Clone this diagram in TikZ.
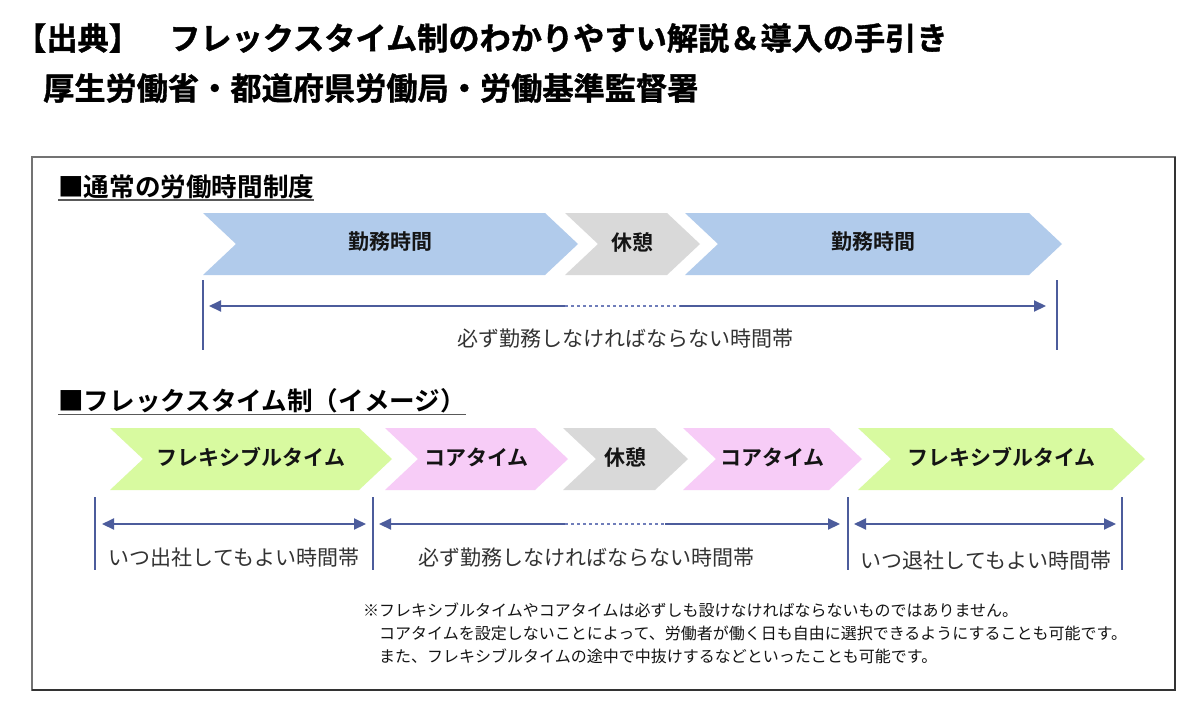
\documentclass[tikz,border=0pt]{standalone}
\usepackage{fontspec}
\setmainfont{Noto Sans CJK JP}[BoldFont={Noto Sans CJK JP Bold}]
\newfontfamily\heavyjp{Noto Sans CJK JP Bold}[FakeBold=1.2]
\usetikzlibrary{arrows.meta}
\definecolor{blueC}{HTML}{B1CBEB}
\definecolor{grayC}{HTML}{D9D9D9}
\definecolor{greenC}{HTML}{D8FAA0}
\definecolor{pinkC}{HTML}{F7CCF7}
\definecolor{arr}{HTML}{4C5C9C}
\definecolor{arrlight}{HTML}{6F7DBA}
\definecolor{txt}{HTML}{333333}
\newcommand{\chev}[6]{% left, tip, centre y, colour, name, text
  \fill[#4] (#1,#3-31) -- (#2-33,#3-31) -- (#2,#3) -- (#2-33,#3+31) -- (#1,#3+31) -- (#1+33,#3) -- cycle;
  \node[chevtext] (#5) at ({(#1+#2)/2},#3-2) {#6};}
\tikzset{
  chevtext/.style={inner sep=0pt, font=\fontsize{21}{21}\selectfont\bfseries, text=black!92},
  lbl/.style={inner sep=0pt, font=\fontsize{21}{21}\selectfont, text=txt},
  heading/.style={inner sep=0pt, anchor=west, font=\fontsize{25.6}{25.6}\selectfont\bfseries, text=black},
  uline/.style={line width=1.8pt, black!65},
  title/.style={inner sep=0pt, anchor=west, font=\fontsize{31.2}{31.2}\selectfont\heavyjp, text=black},
  vline/.style={line width=2pt, arr},
  arrline/.style={line width=2pt, arr},
  dotline/.style={line width=2.4pt, arrlight, dash pattern=on 3pt off 3pt},
  tipL/.style={{Triangle[length=12pt,width=11pt]}-},
  tipR/.style={-{Triangle[length=12pt,width=11pt]}},
  tipLR/.style={{Triangle[length=12pt,width=11pt]}-{Triangle[length=12pt,width=11pt]}},
}
\begin{document}
\begin{tikzpicture}[x=1pt,y=-1pt]
\fill[white] (0,0) rectangle (1196,710);
\useasboundingbox (0,0) rectangle (1196,710);

% titles
\node[title] (src) at (15,38) {【出典】};
\node[title] (ttl) at (169,38) {フレックスタイム制のわかりやすい解説＆導入の手引き};
\node[title] (org) at (43,88) {厚生労働省・都道府県労働局・労働基準監督署};

% frame
\draw[line width=2pt, black!55] (32,157) rectangle (1175,690);
\draw[line width=2pt, black!80] (1175,157) -- (1175,690) -- (32,690);

% section 1
\node[heading] (h1) at (58,187) {■通常の労働時間制度};
\draw[uline] ([yshift=-1pt]h1.south west) -- ([yshift=-1pt]h1.south east);

\chev{203}{578}{244}{blueC}{w1}{勤務時間}
\chev{565}{700}{244}{grayC}{r1}{休憩}
\chev{685}{1062}{244}{blueC}{w2}{勤務時間}

\coordinate (v1t) at (203,280); \coordinate (v1b) at (203,350);
\coordinate (v2t) at (1057,280); \coordinate (v2b) at (1057,350);
\draw[vline] (v1t) -- (v1b);
\draw[vline] (v2t) -- (v2b);
\coordinate (a1l) at (209,306); \coordinate (a1m) at (565,306);
\coordinate (a1n) at (680,306); \coordinate (a1r) at (1046,306);
\draw[arrline, tipL] (a1l) -- (a1m);
\draw[dotline] (a1m) -- (a1n);
\draw[arrline, tipR] (a1n) -- (a1r);
\node[lbl] (l1) at (625,339) {必ず勤務しなければならない時間帯};

% section 2
\node[heading] (h2) at (58,401) {■フレックスタイム制（イメージ）};
\draw[uline] ([yshift=-1pt]h2.south west) -- ([yshift=-1pt]h2.south east);

\chev{110}{392}{459}{greenC}{f1}{フレキシブルタイム}
\chev{385}{568}{459}{pinkC}{c1}{コアタイム}
\chev{563}{688}{459}{grayC}{r2}{休憩}
\chev{683}{862}{459}{pinkC}{c2}{コアタイム}
\chev{858}{1145}{459}{greenC}{f2}{フレキシブルタイム}

\foreach \n/\x in {p1/95,p2/373,p3/848,p4/1122}{
  \coordinate (\n t) at (\x,497); \coordinate (\n b) at (\x,570);
  \draw[vline] (\n t) -- (\n b);
}
\coordinate (b1l) at (102,524); \coordinate (b1r) at (366,524);
\draw[arrline, tipLR] (b1l) -- (b1r);
\coordinate (b2l) at (379,524); \coordinate (b2m) at (565,524);
\coordinate (b2n) at (665,524); \coordinate (b2r) at (840,524);
\draw[arrline, tipL] (b2l) -- (b2m);
\draw[dotline] (b2m) -- (b2n);
\draw[arrline, tipR] (b2n) -- (b2r);
\coordinate (b3l) at (854,524); \coordinate (b3r) at (1116,524);
\draw[arrline, tipLR] (b3l) -- (b3r);

\node[lbl] (l2) at (234,558) {いつ出社してもよい時間帯};
\node[lbl] (l3) at (586,558) {必ず勤務しなければならない時間帯};
\node[lbl] (l4) at (986,561) {いつ退社してもよい時間帯};

% note
\node[inner sep=0pt, anchor=north west, align=left, text=black!92,
      font=\fontsize{16}{23}\selectfont] (note) at (363,603)
  {※フレキシブルタイムやコアタイムは必ずしも設けなければならないものではありません。\\
   　コアタイムを設定しないことによって、労働者が働く日も自由に選択できるようにすることも可能です。\\
   　また、フレキシブルタイムの途中で中抜けするなどといったことも可能です。};
\end{tikzpicture}
\end{document}
